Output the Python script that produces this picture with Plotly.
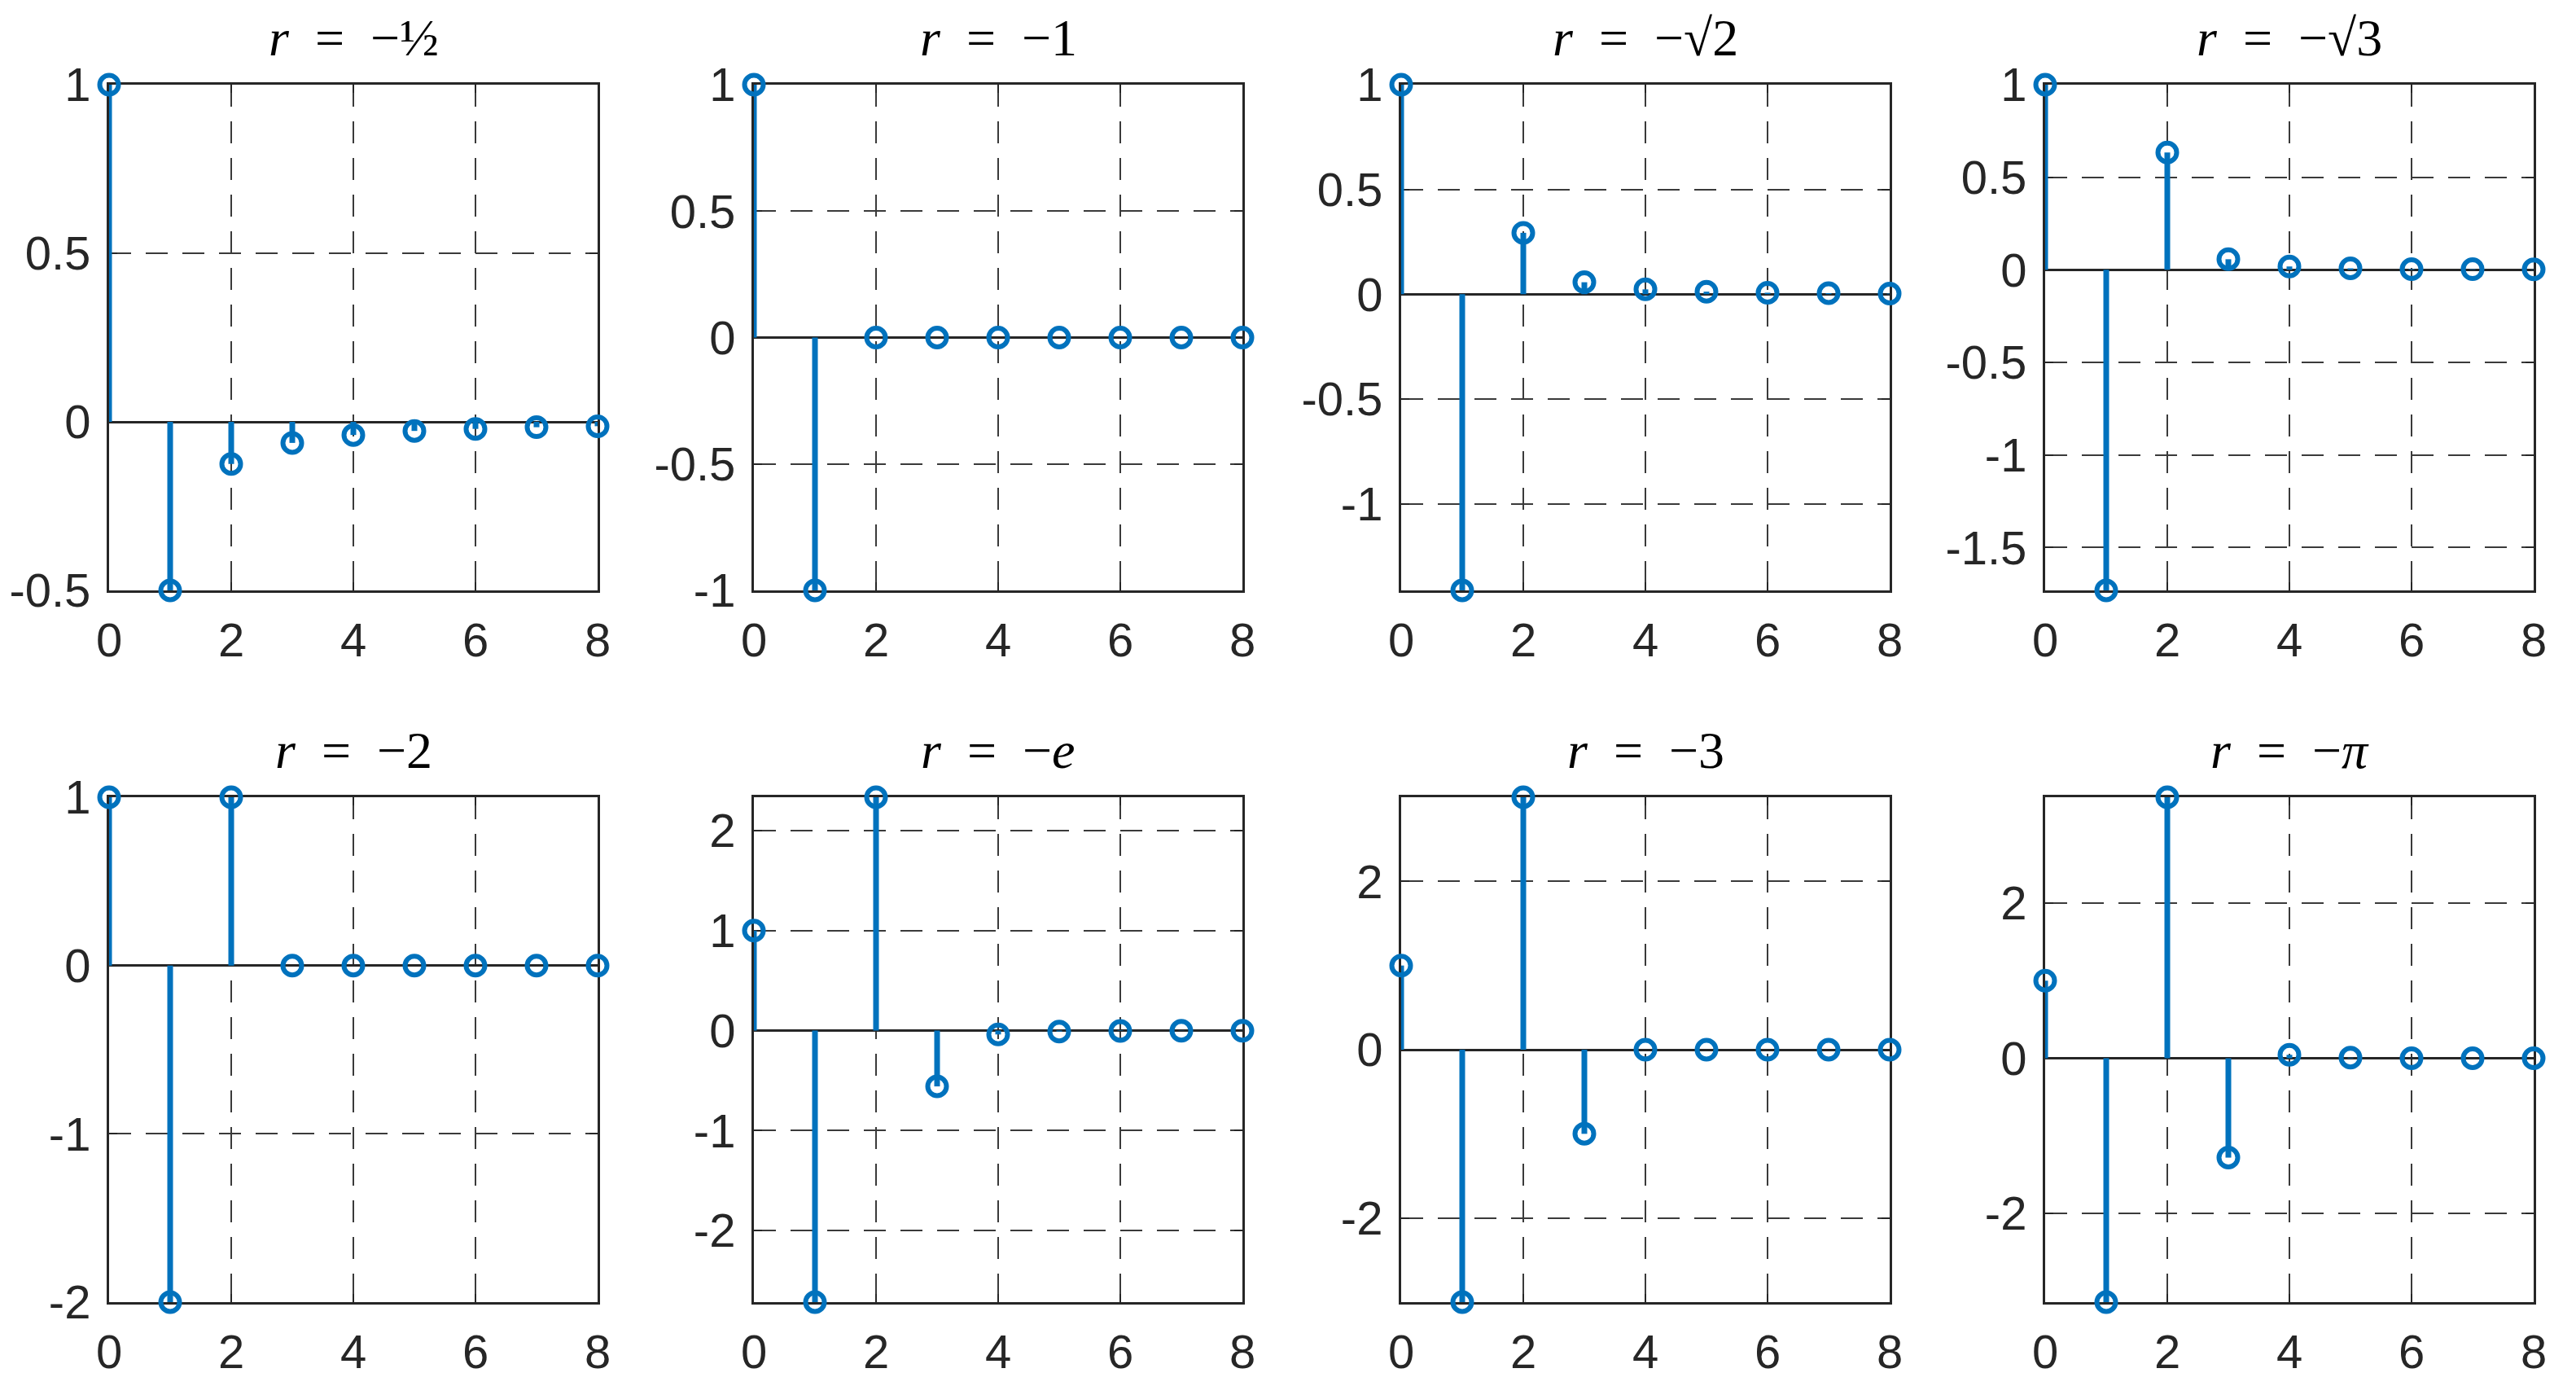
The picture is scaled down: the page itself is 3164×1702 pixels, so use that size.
import plotly.graph_objects as go

# stem values, n = 0..8
n = [0, 1, 2, 3, 4, 5, 6, 7, 8]
v_half = [1, -0.5, -0.125, -0.0625, -0.039, -0.027, -0.021, -0.016, -0.013]
v_one = [1, -1, 0, 0, 0, 0, 0, 0, 0]
v_sqrt2 = [1, -1.414, 0.293, 0.057, 0.023, 0.012, 0.007, 0.005, 0.003]
v_sqrt3 = [1, -1.732, 0.634, 0.057, 0.018, 0.008, 0.004, 0.003, 0.002]
v_two = [1, -2, 1, 0, 0, 0, 0, 0, 0]
v_e = [1, -2.718, 2.335, -0.559, -0.039, -0.010, -0.004, -0.002, -0.001]
v_three = [1, -3, 3, -1, 0, 0, 0, 0, 0]
v_pi = [1, -3.142, 3.364, -1.280, 0.045, 0.008, 0.002, 0.001, 0.0005]

titles = ["<i>r</i>\u2002=\u2002\u2212½", "<i>r</i>\u2002=\u2002\u22121",
          "<i>r</i>\u2002=\u2002\u2212√2", "<i>r</i>\u2002=\u2002\u2212√3",
          "<i>r</i>\u2002=\u2002\u22122", "<i>r</i>\u2002=\u2002\u2212<i>e</i>",
          "<i>r</i>\u2002=\u2002\u22123", "<i>r</i>\u2002=\u2002\u2212<i>π</i>"]
series = [v_half, v_one, v_sqrt2, v_sqrt3, v_two, v_e, v_three, v_pi]
yticks = [[-0.5, 0, 0.5, 1], [-1, -0.5, 0, 0.5, 1], [-1, -0.5, 0, 0.5, 1],
          [-1.5, -1, -0.5, 0, 0.5, 1], [-2, -1, 0, 1], [-2, -1, 0, 1, 2],
          [-2, 0, 2], [-2, 0, 2]]
xticks = [0, 2, 4, 6, 8]

W, H = 3164, 1702
# pixel boxes of the panels (page has an 8px body margin, so shift back)
off = 8
col_px = [(134, 734), (926, 1526), (1721, 2321), (2512, 3112)]
row_px = [(104, 725), (979, 1599)]

blue = "#0072BD"
dark = "#262626"
tickfont = dict(family="Liberation Sans, Arial", size=58, color=dark)

fig = go.Figure()
layout = dict(width=W, height=H, margin=dict(l=0, r=0, t=0, b=0),
              paper_bgcolor="white", plot_bgcolor="white", showlegend=False)
annotations = []

for i, vals in enumerate(series):
    r, c = divmod(i, 4)
    sx = "" if i == 0 else str(i + 1)
    xd = [(col_px[c][0] - off) / W, (col_px[c][1] - off) / W]
    yd = [1 - (row_px[r][1] - off) / H, 1 - (row_px[r][0] - off) / H]

    # stems drawn as one-sided error bars down/up to zero (not clipped at the box)
    up = [max(-v, 0) for v in vals]
    down = [max(v, 0) for v in vals]
    fig.add_trace(go.Scatter(x=n, y=vals, mode="markers",
                             marker=dict(symbol="circle-open", size=23, color=blue,
                                         line=dict(width=6, color=blue)),
                             error_y=dict(type="data", symmetric=False, array=up,
                                          arrayminus=down, width=0, thickness=7,
                                          color=blue),
                             xaxis="x" + sx, yaxis="y" + sx, cliponaxis=False))

    common = dict(showline=True, linecolor=dark, linewidth=3, mirror="ticks",
                  ticks="inside", ticklen=10, tickwidth=2, tickcolor=dark,
                  showgrid=True, gridcolor="#3a3a3a", gridwidth=2,
                  griddash="27px,18px", tickfont=tickfont, automargin=False,
                  layer="below traces")
    layout["xaxis" + sx] = dict(common, domain=xd, range=[0, 8], anchor="y" + sx,
                                tickvals=xticks, ticktext=[f"{t:g}" for t in xticks],
                                zeroline=False, ticklabelstandoff=8)
    layout["yaxis" + sx] = dict(common, domain=yd, range=[min(vals), max(vals)],
                                anchor="x" + sx, tickvals=yticks[i],
                                ticktext=[f"{t:g}" for t in yticks[i]],
                                zeroline=True, zerolinecolor=dark, zerolinewidth=3,
                                ticklabelstandoff=8)
    annotations.append(dict(text=titles[i], x=sum(xd) / 2, y=yd[1],
                            xref="paper", yref="paper", xanchor="center",
                            yanchor="bottom", yshift=20, showarrow=False,
                            font=dict(family="Liberation Serif, Times New Roman",
                                      size=64, color="black")))

layout["annotations"] = annotations
fig.update_layout(**layout)
fig.write_html("out.html")
